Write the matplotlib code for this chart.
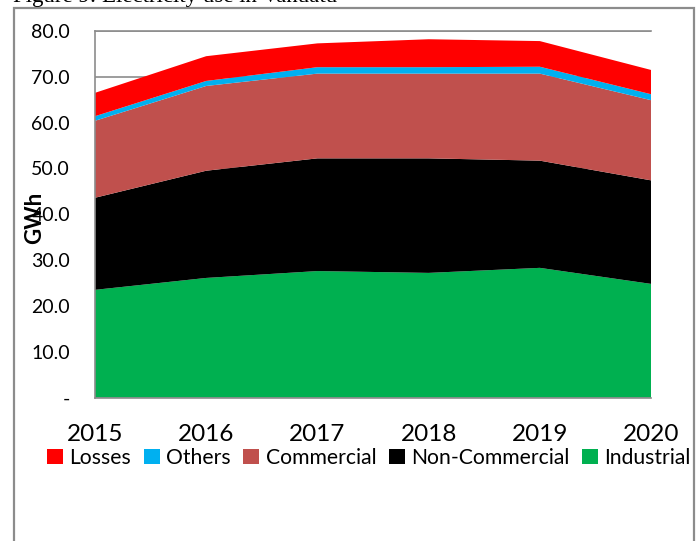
import matplotlib
matplotlib.use("Agg")
import matplotlib.pyplot as plt
from matplotlib.patches import Rectangle, Patch
import numpy as np

years = [2015, 2016, 2017, 2018, 2019, 2020]
industrial = [23.5, 26.1, 27.6, 27.2, 28.3, 24.8]
non_commercial = [20.1, 23.4, 24.6, 25.0, 23.4, 22.6]
commercial = [16.8, 18.5, 18.5, 18.5, 19.0, 17.5]
others = [1.0, 1.1, 1.4, 1.4, 1.5, 1.3]
losses = [5.1, 5.4, 5.2, 6.1, 5.6, 5.3]

series = [
    ("Industrial", industrial, "#00B050"),
    ("Non-Commercial", non_commercial, "#000000"),
    ("Commercial", commercial, "#C0504D"),
    ("Others", others, "#00B0F0"),
    ("Losses", losses, "#FF0000"),
]

W, H = 697, 541
fig = plt.figure(figsize=(W / 100, H / 100), dpi=100)
font = ["Lato", "DejaVu Sans"]

# outer frame and the caption above it
fig.patches.append(Rectangle((14 / W, -0.05), 680 / W, 1.05 - 8 / H,
                             transform=fig.transFigure, fill=False,
                             edgecolor="#8C8C8C", linewidth=1.6))
fig.text(13 / W, 1 - 2 / H, "Figure 9: Electricity use in Vanuatu",
         family="Liberation Serif", fontsize=16.5, va="baseline", ha="left")

ax = fig.add_axes([95 / W, 1 - 397.5 / H, (651 - 95) / W, (397.5 - 31) / H])

ax.stackplot(years, *[s[1] for s in series], colors=[s[2] for s in series],
             labels=[s[0] for s in series], zorder=2, linewidth=0)

ax.set_xlim(2015, 2020)
ax.set_ylim(0, 80)
ax.set_yticks(np.arange(0, 81, 10))
ax.set_yticklabels(["-"] + ["%.1f" % v for v in np.arange(10, 81, 10)],
                   family=font, fontsize=14)
ax.set_xticks(years)
ax.set_xticklabels([str(y) for y in years], family=font, fontsize=17.5)
ax.tick_params(axis="y", length=0, pad=18)
ax.tick_params(axis="x", length=0, pad=19)
ax.yaxis.grid(True, color="#8C8C8C", linewidth=1.2, zorder=0)
ax.set_axisbelow(True)

ax.spines["right"].set_visible(False)
for side in ["left", "bottom", "top"]:
    ax.spines[side].set_color("#8C8C8C")
    ax.spines[side].set_linewidth(1.2)

fig.text(35 / W, 1 - 218 / H, "GWh", rotation=90, family=font,
         fontweight="bold", fontsize=16, ha="center", va="center")

handles = [Patch(facecolor=c, edgecolor="none") for _, _, c in series][::-1]
labels = [n for n, _, _ in series][::-1]
fig.legend(handles, labels, loc="center", bbox_to_anchor=(369 / W, 1 - 458 / H),
           ncol=5, frameon=False, prop={"family": font, "size": 15.2},
           handlelength=0.75, handleheight=0.75, handletextpad=0.3,
           columnspacing=0.6, borderaxespad=0)

fig.savefig("out.png", dpi=100)
